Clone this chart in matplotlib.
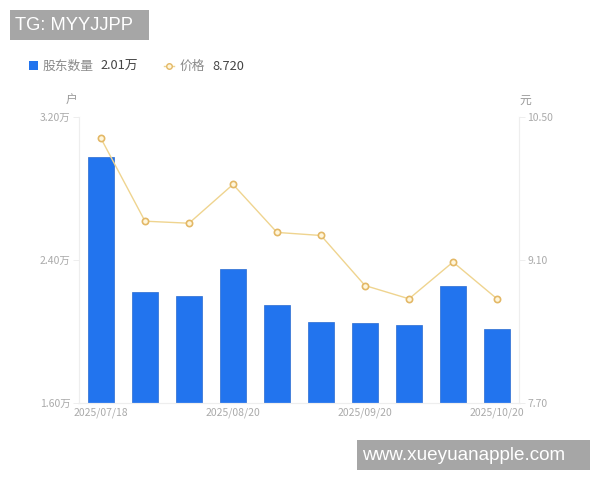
# -*- coding: utf-8 -*-
import matplotlib
matplotlib.use('Agg')
import matplotlib.pyplot as plt
from matplotlib.patches import Rectangle

plt.rcParams['font.family'] = ['Noto Sans CJK SC', 'DejaVu Sans']

dates = ['2025/07/18', '', '', '2025/08/20', '', '', '2025/09/20', '', '', '2025/10/20']
holders = [2.976, 2.221, 2.199, 2.35, 2.148, 2.053, 2.045, 2.039, 2.252, 2.014]
prices = [10.29, 9.48, 9.46, 9.84, 9.37, 9.34, 8.85, 8.72, 9.08, 8.72]
left_ticks = [1.6, 2.4, 3.2]
left_labels = ['1.60万', '2.40万', '3.20万']
right_ticks = [7.7, 9.1, 10.5]
right_labels = ['7.70', '9.10', '10.50']

W, H = 600, 480
BLUE = '#2274ee'
GOLD = '#efd48f'
GREY = '#aaaaaa'
AXIS = '#eeeeee'

fig = plt.figure(figsize=[6, 4.8], dpi=100)
ax = fig.add_axes([79 / W, 1 - 403 / H, 440 / W, 286 / H])
ax2 = ax.twinx()

x = list(range(len(dates)))
ax.bar(x, holders, width=0.59, color=BLUE, edgecolor='#2a6bd0', linewidth=0.5, zorder=2)
ax.set_xlim(-0.5, 9.5)
ax.set_ylim(1.6, 3.2)
ax.set_yticks(left_ticks)
ax.set_yticklabels(left_labels, fontsize=7.5, color=GREY)
ax.set_xticks([i for i in x if dates[i]])
ax.set_xticklabels([d for d in dates if d], fontsize=7.5, color=GREY)
ax.tick_params(axis='x', length=0, pad=3)
ax.tick_params(axis='y', length=4, width=0.7, color=AXIS, pad=2)

# 价格折线放在柱子上面
ax2.plot(x, prices, color=GOLD, linewidth=1, marker='o', markersize=4.5,
         markerfacecolor='#fff6dc', markeredgecolor='#e3b866', markeredgewidth=1.2, zorder=3)
ax2.set_ylim(7.7, 10.5)
ax2.set_yticks(right_ticks)
ax2.set_yticklabels(right_labels, fontsize=7.5, color=GREY)
ax2.tick_params(axis='y', length=4, width=0.7, color=AXIS, pad=2)

for a in [ax, ax2]:
    a.spines['top'].set_visible(False)
    for s in ['left', 'right', 'bottom']:
        a.spines[s].set_color(AXIS)
        a.spines[s].set_linewidth(0.8)


def px_text(px, py, s, **kw):
    fig.text(px / W, 1 - py / H, s, va='center', **kw)


def px_box(px, py, w, h, color):
    fig.add_artist(Rectangle((px / W, 1 - (py + h) / H), w / W, h / H, color=color,
                             transform=fig.transFigure, linewidth=0))


# 单位
px_text(72, 100, '户', fontsize=8.5, color='#999999', ha='center')
px_text(525, 100, '元', fontsize=8.5, color='#999999', ha='center')

# 图例
px_box(29, 61, 9, 9, BLUE)
px_text(43, 66, '股东数量', fontsize=9.2, color='#8a8a8a')
px_text(100, 66, '2.01万', fontsize=9.2, color='#444444')
fig.add_artist(plt.Line2D([164 / W, 169 / W, 174 / W], [1 - 66 / H] * 3, color=GOLD, linewidth=1,
                          marker='o', markersize=4, markevery=[1], markerfacecolor='#fff6dc',
                          markeredgecolor='#e3b866'))
px_text(180, 66, '价格', fontsize=9.2, color='#8a8a8a')
px_text(212, 66, '8.720', fontsize=9.2, color='#444444')

# 水印
px_box(10, 10, 139, 30, '#a6a6a6')
px_text(15, 25, 'TG: MYYJJPP', fontsize=13.2, color='white', family=['Liberation Sans'])
px_box(357, 440, 233, 30, '#a6a6a6')
px_text(362, 455, 'www.xueyuanapple.com', fontsize=13.6, color='white', family=['Liberation Sans'])

fig.savefig('out.png', dpi=100)
